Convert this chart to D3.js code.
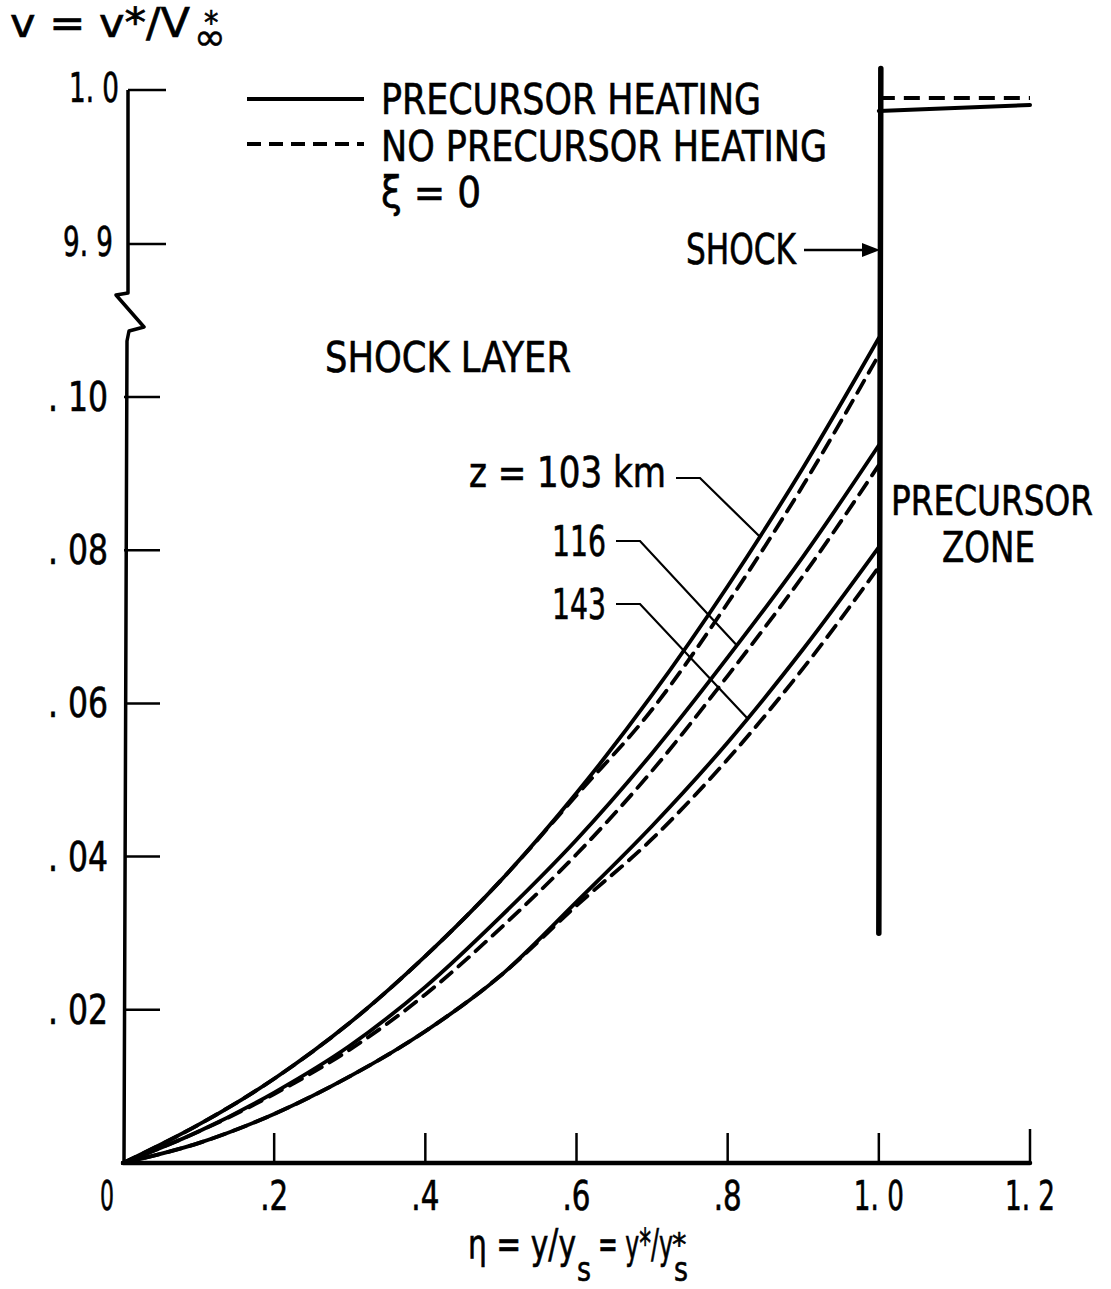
<!DOCTYPE html>
<html><head><meta charset="utf-8">
<script src="https://cdn.jsdelivr.net/npm/d3@7"></script>
<style>
html,body{margin:0;padding:0;background:#fff;}
svg text{font-family:"Liberation Sans Narrow","DejaVu Sans Condensed","Roboto Condensed",sans-serif;fill:#000;stroke:#000;stroke-width:0.6px;}
</style></head>
<body><div id="chart"></div>
<script>
// ---- data ----
const etaGrid = [0, 0.1, 0.2, 0.3, 0.4, 0.5, 0.6, 0.7, 0.8, 0.9, 1.0];
const v103Solid  = [0, 0.0050, 0.0110, 0.0183, 0.0270, 0.0369, 0.0483, 0.0611, 0.0753, 0.0908, 0.1077];
const v103Dashed = [0, 0.0050, 0.0110, 0.0183, 0.0270, 0.0369, 0.0480, 0.0592, 0.0731, 0.0885, 0.1055];
const v116Solid  = [0, 0.0041, 0.0092, 0.0153, 0.0230, 0.0322, 0.0422, 0.0535, 0.0660, 0.0792, 0.0937];
const v116Dashed = [0, 0.0041, 0.0090, 0.0148, 0.0220, 0.0307, 0.0403, 0.0512, 0.0636, 0.0767, 0.0911];
const v143Solid  = [0, 0.0026, 0.0064, 0.0113, 0.0172, 0.0245, 0.0341, 0.0440, 0.0549, 0.0671, 0.0804];
const v143Dashed = [0, 0.0026, 0.0064, 0.0113, 0.0172, 0.0245, 0.0336, 0.0423, 0.0527, 0.0646, 0.0778];
// precursor zone (upper broken scale)
const etaPre = [1.0, 1.2];
const vPreSolid  = [0.99864, 0.99903];
const vPreDashed = [0.99948, 0.99948];
// ticks
const xTicks = [0, 0.2, 0.4, 0.6, 0.8, 1.0, 1.2];
const xTickLabels = ["0", ".2", ".4", ".6", ".8", "1. 0", "1. 2"];
const yTicks = [0.02, 0.04, 0.06, 0.08, 0.10];
const yTickLabels = [". 02", ". 04", ". 06", ". 08", ". 10"];
const yTopTicks = [0.99, 1.0];
const yTopTickLabels = ["9. 9", "1. 0"];
const altitudes = ["z = 103 km", "116", "143"];
const shockEta = 1.0;
const shockBottom = 0.03;

// ---- scales ----
const W = 1111, H = 1289;
const x = d3.scaleLinear([0, 1.2], [123, 1030]);
const y = d3.scaleLinear([0, 0.10], [1163, 397]);
const yTop = d3.scaleLinear([0.99, 1.0], [244, 90]);

const svg = d3.select("#chart").append("svg").attr("width", W).attr("height", H);

function txt(t, x0, y0, size, len, anchor) {
  const el = svg.append("text").attr("x", x0).attr("y", y0).attr("font-size", size).text(t);
  if (anchor) el.attr("text-anchor", anchor);
  if (len) el.attr("textLength", len).attr("lengthAdjust", "spacingAndGlyphs");
  return el;
}
// text squeezed horizontally by a transform so that its box is exactly `len` wide
function sqz(t, x0, y0, size, len) {
  const g = svg.append("g");
  const el = g.append("text").attr("x", 0).attr("y", 0).attr("font-size", size).text(t);
  const w = el.node().getComputedTextLength() || len;
  g.attr("transform", `translate(${x0},${y0}) scale(${len / w},1)`);
  return el;
}

// ---- axes ----
svg.append("line").attr("x1", x(0)).attr("x2", x(1.2)).attr("y1", y(0)).attr("y2", y(0))
  .attr("stroke", "#000").attr("stroke-width", 4.5).attr("stroke-linecap", "round");
svg.selectAll(".xt").data(xTicks.slice(1)).enter().append("line")
  .attr("x1", d => x(d)).attr("x2", d => x(d)).attr("y1", y(0)).attr("y2", d => y(0) - (d === 1.2 ? 34 : 30))
  .attr("stroke", "#000").attr("stroke-width", 2.5);
const xLabLen = {"0": 14, ".2": 28, ".4": 28, ".6": 28, ".8": 28, "1. 0": 50, "1. 2": 50};
xTicks.forEach((d, i) => {
  const lab = xTickLabels[i];
  txt(lab, x(d) + (d === 0 ? -16 : 0), 1210, 40, xLabLen[lab], "middle");
});

// y axis with break
const ax = x(0) + 1;
const breakTop = 293, breakBot = 331;
svg.append("path")
  .attr("d", `M${ax + 4},${yTop(1.0)} L${ax + 4},${breakTop} L${ax - 8},${breakTop + 2} L${ax + 20},${breakBot - 4} L${ax + 5},${breakBot} L${ax + 3},${breakBot + 10} L${ax},${y(0)}`)
  .attr("fill", "none").attr("stroke", "#000").attr("stroke-width", 3.5).attr("stroke-linejoin", "round");
svg.selectAll(".yt").data(yTicks).enter().append("line")
  .attr("x1", ax).attr("x2", ax + 36).attr("y1", d => y(d)).attr("y2", d => y(d))
  .attr("stroke", "#000").attr("stroke-width", 2.5);
yTicks.forEach((d, i) => txt(yTickLabels[i], 108, y(d) + 14, 40, 60, "end"));
svg.selectAll(".ytt").data(yTopTicks).enter().append("line")
  .attr("x1", ax + 4).attr("x2", ax + 42).attr("y1", d => yTop(d)).attr("y2", d => yTop(d))
  .attr("stroke", "#000").attr("stroke-width", 2.5);
yTopTicks.forEach((d, i) => txt(yTopTickLabels[i], d === 1.0 ? 119 : 113, yTop(d) + 12, 40, 50, "end"));

// y axis title v = v*/V∞*
txt("v = v*/V", 10, 37, 40, 180);
txt("*", 204, 33, 32);
svg.append("text").attr("x", 194).attr("y", 50).attr("font-size", 38)
  .style("font-family", "DejaVu Sans").text("∞");

// x axis title η = y/y_s = y*/y_s*
txt("η = y/y", 468, 1258, 40, 108);
txt("s", 577, 1281, 34, 14);
txt("= y*/y", 598, 1258, 40, 75);
txt("s", 674, 1281, 34, 14);
txt("*", 672, 1255, 32);

// ---- curves ----
const line = d3.line().x(d => x(d[0])).y(d => y(d[1])).curve(d3.curveMonotoneX);
const series = [
  {v: v103Solid, dash: null}, {v: v116Solid, dash: null}, {v: v143Solid, dash: null},
  {v: v103Dashed, dash: "14 9"}, {v: v116Dashed, dash: "14 9"}, {v: v143Dashed, dash: "14 9"}
];
series.forEach(s => {
  svg.append("path").datum(etaGrid.map((e, i) => [e, s.v[i]]))
    .attr("d", line).attr("fill", "none").attr("stroke", "#000")
    .attr("stroke-width", 3.8).attr("stroke-dasharray", s.dash).attr("stroke-linecap", "round");
});

// precursor zone lines
const lineTop = d3.line().x(d => x(d[0])).y(d => yTop(d[1]));
svg.append("path").datum(etaPre.map((e, i) => [e, vPreSolid[i]])).attr("d", lineTop)
  .attr("fill", "none").attr("stroke", "#000").attr("stroke-width", 4).attr("stroke-linecap", "round");
svg.append("path").datum(etaPre.map((e, i) => [e, vPreDashed[i]])).attr("d", lineTop)
  .attr("fill", "none").attr("stroke", "#000").attr("stroke-width", 4).attr("stroke-dasharray", "16 9");

// shock line
svg.append("line").attr("x1", x(shockEta) + 2).attr("x2", x(shockEta)).attr("y1", yTop(1.0014)).attr("y2", y(shockBottom))
  .attr("stroke", "#000").attr("stroke-width", 5.5).attr("stroke-linecap", "round");

// ---- legend ----
svg.append("line").attr("x1", 247).attr("x2", 364).attr("y1", 99).attr("y2", 99)
  .attr("stroke", "#000").attr("stroke-width", 4);
svg.append("line").attr("x1", 247).attr("x2", 364).attr("y1", 144).attr("y2", 144)
  .attr("stroke", "#000").attr("stroke-width", 4).attr("stroke-dasharray", "14 8");
txt("PRECURSOR HEATING", 381, 114, 42, 380);
txt("NO PRECURSOR HEATING", 381, 161, 42, 446);
txt("ξ = 0", 381, 207, 42, 100);
txt("SHOCK", 686, 264, 42, 110);
txt("SHOCK LAYER", 325, 372, 42, 246);
sqz("PRECURSOR", 891, 515, 41, 202);
txt("ZONE", 942, 562, 42, 93);
txt(altitudes[0], 469, 487, 42, 197);
txt(altitudes[1], 552, 556, 42, 54);
txt(altitudes[2], 552, 619, 42, 54);

// shock arrow
svg.append("line").attr("x1", 804).attr("x2", 866).attr("y1", 250).attr("y2", 250).attr("stroke", "#000").attr("stroke-width", 2.5);
svg.append("path").attr("d", "M862,243 L880,250 L862,257 Z").attr("fill", "#000");

// leader lines to curves
const leaders = [
  {pts: [[676, 478], [700, 478]], eta: 0.842, v: v103Solid},
  {pts: [[616, 541], [640, 541]], eta: 0.812, v: v116Solid},
  {pts: [[616, 604], [640, 604]], eta: 0.826, v: v143Solid}
];
leaders.forEach(l => {
  const vv = d3.scaleLinear(etaGrid, l.v)(l.eta);
  const p = l.pts.concat([[x(l.eta), y(vv)]]);
  svg.append("path").attr("d", d3.line()(p)).attr("fill", "none").attr("stroke", "#000").attr("stroke-width", 2.2);
});
</script></body></html>
